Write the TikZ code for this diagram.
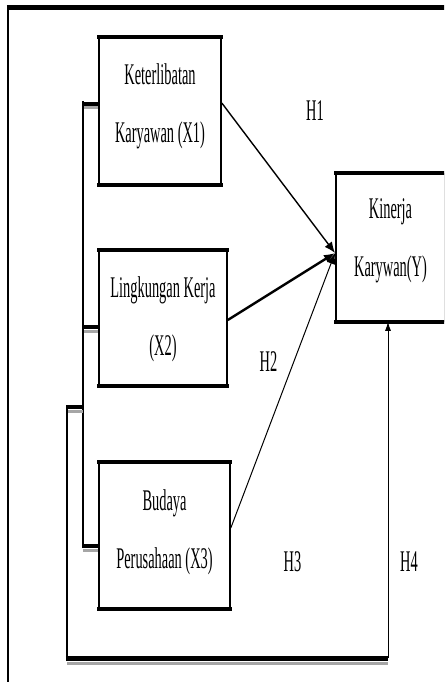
\documentclass[tikz,border=0pt]{standalone}
\usepackage{fontspec}
\setmainfont{Liberation Serif}[FakeStretch=0.48]
\usetikzlibrary{arrows.meta}
\begin{document}
\begin{tikzpicture}[x=1pt,y=-1pt,
  box/.style={draw, line width=1.6pt, inner sep=0pt},
  txt/.style={inner sep=0pt, align=center, font=\fontsize{30}{58}\selectfont},
  lbl/.style={font=\fontsize{30}{36}\selectfont, inner sep=0pt},
  arr/.style={-{Latex[length=11pt,width=9pt]}},
  shade/.style={draw=black!35, line width=3pt},
  heavy/.style={line width=4.5pt}]
\useasboundingbox (0,0) rectangle (444,682);
\clip (0,0) rectangle (444,682);
% frame
\draw[line width=2.5pt] (8,700) -- (8,8);
\draw[line width=5pt] (6.75,8) -- (470,8);
% boxes
\node[box, minimum width=122pt, minimum height=146pt] (x1) at (160,111) {};
\node[box, minimum width=128pt, minimum height=134pt] (x2) at (163,318) {};
\node[box, minimum width=131pt, minimum height=145pt] (x3) at (164.5,535.5) {};
\node[box, minimum width=109pt, minimum height=147pt] (y) at (390.5,247.5) {};
\foreach \n in {x1,x2,x3,y}{
  \draw[heavy] ([xshift=-0.8pt]\n.north west) -- ([xshift=0.8pt]\n.north east);
  \draw[heavy] ([xshift=-0.8pt]\n.south west) -- ([xshift=0.8pt]\n.south east);
}
% box texts
\node[txt] (x1t) at ([yshift=5pt]x1.center) {Keterlibatan\\Karyawan (X1)};
\node[txt] (x2t) at ([yshift=-1pt]x2.center) {Lingkungan Kerja\\(X2)};
\node[txt] (x3t) at ([yshift=3pt]x3.center) {Budaya\\Perusahaan (X3)};
\node[txt] (yt) at ([yshift=7pt]y.center) {Kinerja\\Karywan(Y)};
% labels
\node[lbl] (h1) at (315,111) {H1};
\node[lbl] (h2) at (268.5,362) {H2};
\node[lbl] (h3) at (292.5,562) {H3};
\node[lbl] (h4l) at (409,562) {H4};
% arrows to Y
\coordinate (t) at (335,253);
\coordinate (s1) at ([yshift=8pt]x1.east);
\coordinate (s2) at ([yshift=-2pt]x2.east);
\coordinate (s3) at ([yshift=7.5pt]x3.east);
\draw[arr, line width=1.4pt] (s1) -- (t);
\draw[arr, line width=2.4pt] (s2) -- (t);
\draw[arr, line width=1pt] (s3) -- (t);
% bracket linking the three variables
\coordinate (bt) at (83,101);
\coordinate (bb) at (83,548);
\coordinate (k1) at (83,104);
\coordinate (k2) at (83,327);
\coordinate (k3) at (83,546);
\coordinate (k4) at (83,407);
\coordinate (c1) at (67,407);
\coordinate (c2) at (67,658);
\coordinate (h4) at (388,658);
\foreach \k/\n in {k1/x1,k2/x2,k3/x3}{
  \draw[shade] ([yshift=-4pt]\k) -- ([yshift=-4pt]\k -| \n.west);
  \draw[heavy] (\k) -- (\k -| \n.west);
}
\draw[line width=2pt] (bt) -- (bb);
\draw[shade] ([yshift=-4pt]k4) -- ([yshift=-4pt]c1);
\draw[heavy] (k4) -- (c1);
\draw[line width=2.5pt] ([yshift=2pt]c1) -- (c2);
\draw[shade] ([yshift=-5pt]c2) -- ([yshift=-5pt]h4);
\draw[line width=5pt] ([xshift=-1.25pt]c2) -- (h4);
\draw[line width=1pt, -{Latex[length=9pt,width=6pt]}] (h4) -- (h4 |- y.south);
\end{tikzpicture}
\end{document}
